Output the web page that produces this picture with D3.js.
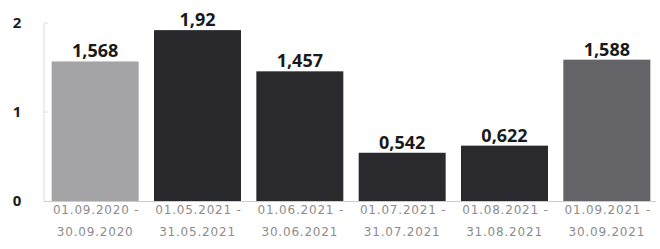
<!DOCTYPE html>
<html>
<head>
<meta charset="utf-8">
<script src="https://cdn.jsdelivr.net/npm/d3@7"></script>
<style>
body { margin: 0; background: #fff; }
</style>
</head>
<body>
<div id="chart"></div>
<script>
const width = 660
const height = 249

const periods = [
    ["01.09.2020 -", "30.09.2020"],
    ["01.05.2021 -", "31.05.2021"],
    ["01.06.2021 -", "30.06.2021"],
    ["01.07.2021 -", "31.07.2021"],
    ["01.08.2021 -", "31.08.2021"],
    ["01.09.2021 -", "30.09.2021"]
]
const values = [1.568, 1.92, 1.457, 0.542, 0.622, 1.588]
const valueLabels = ["1,568", "1,92", "1,457", "0,542", "0,622", "1,588"]
const barColors = ["#a4a4a6", "#29292d", "#2b2b2e", "#2a2a2e", "#29292e", "#636368"]
const yTicks = [0, 1, 2]

const svg = d3.select("#chart").append("svg").attr("width", width).attr("height", height)

const x = d3.scaleBand().domain(d3.range(values.length)).range([44, 658]).paddingInner(0.15).paddingOuter(0.075)
const y = d3.scaleLinear().domain([0, 2]).range([201, 23])

// axes
svg.append("line")
    .attr("x1", 44).attr("x2", 44)
    .attr("y1", y(2)).attr("y2", y(0))
    .attr("stroke", "#dcdcdc")
svg.selectAll(".ytick").data(yTicks.slice(1))
    .join("line")
        .attr("x1", 44).attr("x2", 48)
        .attr("y1", d => y(d)).attr("y2", d => y(d))
        .attr("stroke", "#dcdcdc")
svg.selectAll(".ylab").data(yTicks)
    .join("text")
        .attr("x", 17)
        .attr("y", d => y(d) + 5)
        .attr("text-anchor", "middle")
        .attr("font-family", "Open Sans")
        .attr("font-weight", "bold")
        .attr("font-size", 15)
        .attr("fill", "#1c1c1c")
        .text(d => d)

// bars
svg.selectAll(".bar").data(values)
    .join("rect")
        .attr("x", (d, i) => x(i))
        .attr("y", d => y(d))
        .attr("width", x.bandwidth())
        .attr("height", d => y(0) - y(d))
        .attr("fill", (d, i) => barColors[i])

svg.append("line")
    .attr("x1", 44).attr("x2", 656)
    .attr("y1", y(0) + 0.5).attr("y2", y(0) + 0.5)
    .attr("stroke", "#c8ccd8")

// value labels
svg.selectAll(".val").data(values)
    .join("text")
        .attr("x", (d, i) => x(i) + x.bandwidth() / 2)
        .attr("y", d => y(d) - 4)
        .attr("text-anchor", "middle")
        .attr("font-family", "Open Sans")
        .attr("font-weight", "bold")
        .attr("font-size", 18)
        .attr("fill", "#1a1a1a")
        .text((d, i) => valueLabels[i])

// period labels
const lab = svg.selectAll(".per").data(periods)
    .join("text")
        .attr("text-anchor", "middle")
        .attr("font-family", "DejaVu Sans")
        .attr("font-size", 12)
        .attr("letter-spacing", 0.8)
        .attr("fill", "#8c8c8c")
lab.append("tspan")
    .attr("x", (d, i) => x(i) + x.bandwidth() / 2 + 1)
    .attr("y", 214)
    .text(d => d[0])
lab.append("tspan")
    .attr("x", (d, i) => x(i) + x.bandwidth() / 2)
    .attr("y", 236)
    .text(d => d[1])
</script>
</body>
</html>
